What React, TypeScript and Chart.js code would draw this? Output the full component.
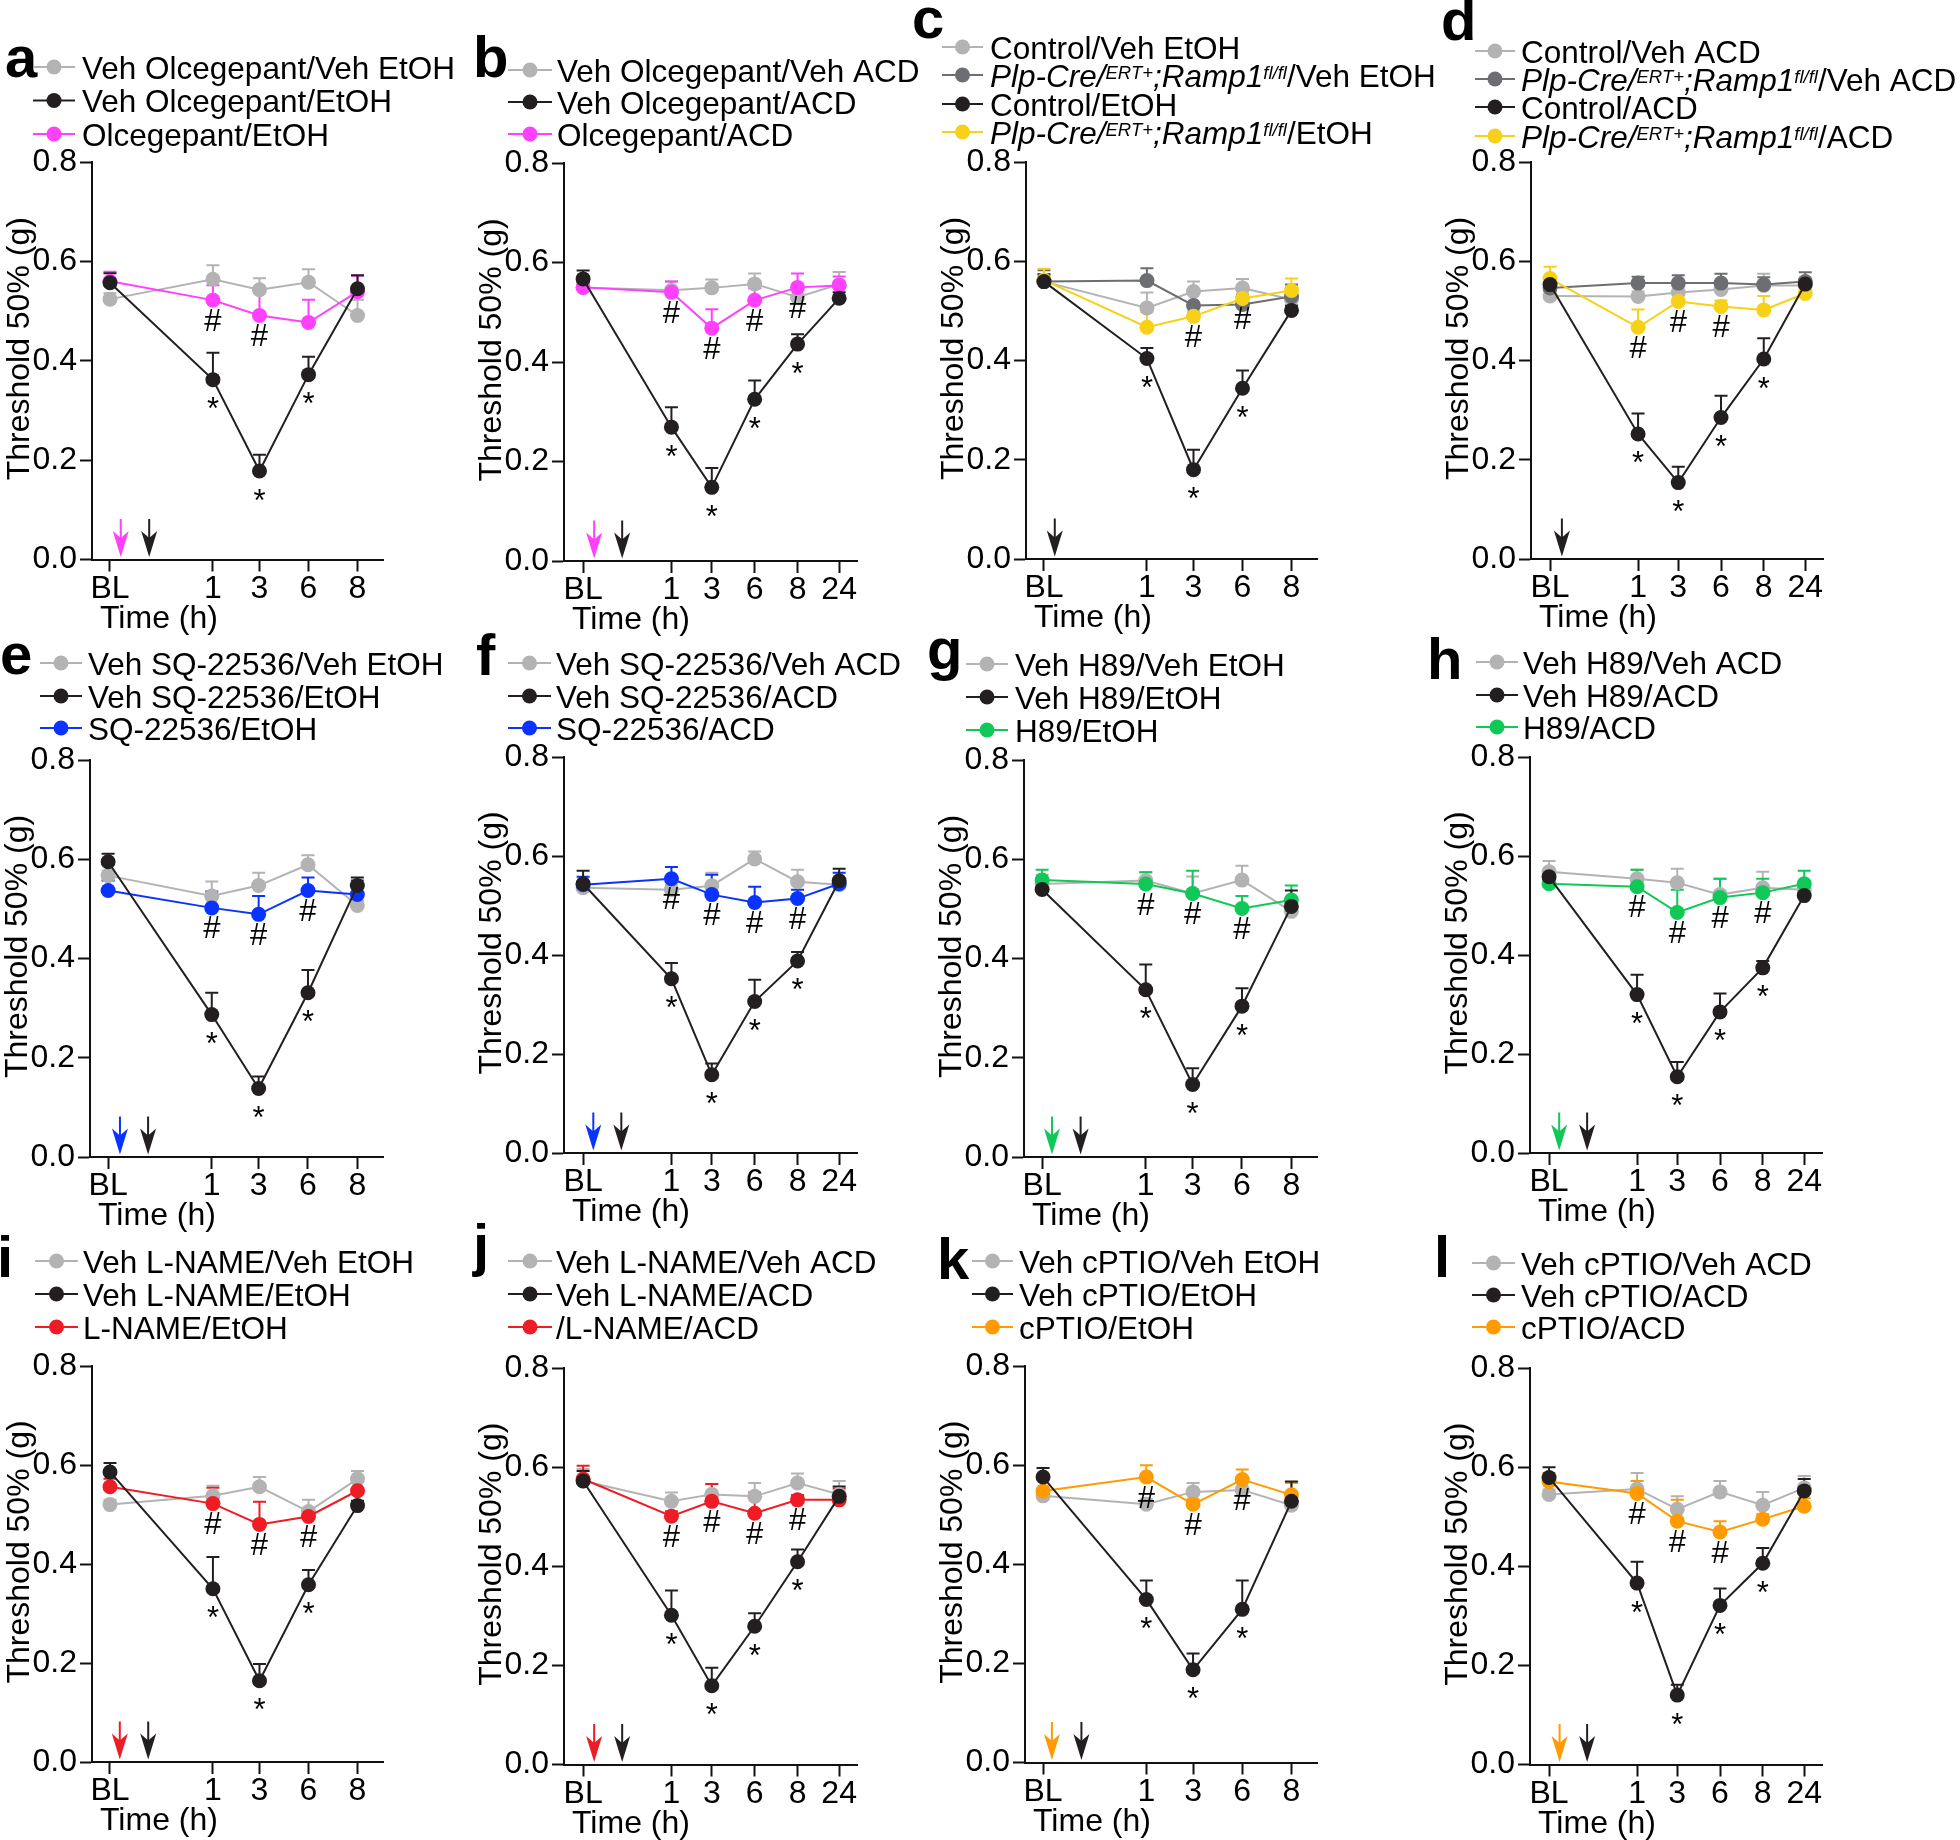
import React, { useEffect, useRef } from 'react';
import { Chart, registerables } from 'chart.js';

Chart.register(...registerables);

const FONT_FAMILY = '"Liberation Sans", Arial, Helvetica, sans-serif';

// ---------- axis categories ----------
const TIME_LABELS_5 = ['BL', '1', '3', '6', '8'];
const TIME_LABELS_6 = ['BL', '1', '3', '6', '8', '24'];
const TIME_SLOT_5 = [0, 2.1, 3.05, 4.05, 5.05];
const TIME_SLOT_6 = [0, 2.08, 3.03, 4.04, 5.05, 6.03];
const Y_TICKS = [0, 0.2, 0.4, 0.6, 0.8];
const Y_TITLE = 'Threshold 50% (g)';
const X_TITLE = 'Time (h)';

// ---------- colours ----------
const GREY = '#b3b3b3';
const DARKGREY = '#6d6e71';
const BLACK = '#231f20';
const PINK = '#ff40ff';
const BLUE = '#0a33ff';
const GREEN = '#10c858';
const RED = '#ee1c25';
const ORANGE = '#ff9a00';
const YELLOW = '#f7d117';

// ---------- panel a : Olcegepant / EtOH ----------
const aVehVehMean = [0.524, 0.564, 0.543, 0.558, 0.491];
const aVehVehSem = [0.012, 0.028, 0.023, 0.026, 0.032];
const aVehEtohMean = [0.557, 0.362, 0.178, 0.372, 0.545];
const aVehEtohSem = [0.019, 0.054, 0.033, 0.036, 0.027];
const aDrugEtohMean = [0.560, 0.522, 0.491, 0.477, 0.539];
const aDrugEtohSem = [0.019, 0.030, 0.050, 0.046, 0.032];
const aHash = [1, 2];
const aStar = [1, 2, 3];

// ---------- panel b : Olcegepant / ACD ----------
const bVehVehMean = [0.550, 0.544, 0.549, 0.557, 0.530, 0.556];
const bVehVehSem = [0.010, 0.018, 0.017, 0.021, 0.015, 0.025];
const bVehAcdMean = [0.567, 0.269, 0.148, 0.325, 0.436, 0.528];
const bVehAcdSem = [0.017, 0.040, 0.039, 0.038, 0.020, 0.012];
const bDrugAcdMean = [0.550, 0.540, 0.468, 0.524, 0.550, 0.554];
const bDrugAcdSem = [0.010, 0.022, 0.038, 0.024, 0.028, 0.018];
const bHash = [1, 2, 3, 4];
const bStar = [1, 2, 3, 4];

// ---------- panel c : Plp-Cre Ramp1 / EtOH ----------
const cCtrlVehMean = [0.559, 0.506, 0.539, 0.546, 0.523];
const cCtrlVehSem = [0.012, 0.031, 0.020, 0.018, 0.028];
const cPlpVehMean = [0.559, 0.561, 0.511, 0.513, 0.529];
const cPlpVehSem = [0.023, 0.025, 0.026, 0.020, 0.024];
const cCtrlEtohMean = [0.559, 0.404, 0.180, 0.344, 0.501];
const cCtrlEtohSem = [0.015, 0.021, 0.040, 0.036, 0.010];
const cPlpEtohMean = [0.562, 0.467, 0.489, 0.525, 0.541];
const cPlpEtohSem = [0.023, 0.030, 0.010, 0.015, 0.024];
const cHash = [2, 3];
const cStar = [1, 2, 3];

// ---------- panel d : Plp-Cre Ramp1 / ACD ----------
const dCtrlVehMean = [0.530, 0.529, 0.537, 0.543, 0.551, 0.551];
const dCtrlVehSem = [0.010, 0.010, 0.012, 0.015, 0.024, 0.015];
const dPlpVehMean = [0.546, 0.556, 0.556, 0.556, 0.553, 0.559];
const dPlpVehSem = [0.012, 0.013, 0.016, 0.019, 0.015, 0.019];
const dCtrlAcdMean = [0.553, 0.252, 0.154, 0.285, 0.403, 0.554];
const dCtrlAcdSem = [0.012, 0.041, 0.032, 0.044, 0.042, 0.010];
const dPlpAcdMean = [0.565, 0.467, 0.519, 0.509, 0.502, 0.535];
const dPlpAcdSem = [0.024, 0.036, 0.015, 0.012, 0.028, 0.010];
const dHash = [1, 2, 3];
const dStar = [1, 2, 3, 4];

// ---------- panel e : SQ-22536 / EtOH ----------
const eVehVehMean = [0.567, 0.526, 0.547, 0.589, 0.507];
const eVehVehSem = [0.010, 0.029, 0.026, 0.019, 0.010];
const eVehEtohMean = [0.595, 0.287, 0.138, 0.331, 0.547];
const eVehEtohSem = [0.016, 0.044, 0.024, 0.046, 0.016];
const eDrugEtohMean = [0.537, 0.502, 0.489, 0.537, 0.529];
const eDrugEtohSem = [0.020, 0.033, 0.037, 0.026, 0.028];
const eHash = [1, 2, 3];
const eStar = [1, 2, 3];

// ---------- panel f : SQ-22536 / ACD ----------
const fVehVehMean = [0.536, 0.532, 0.540, 0.594, 0.548, 0.542];
const fVehVehSem = [0.010, 0.010, 0.026, 0.015, 0.024, 0.010];
const fVehAcdMean = [0.544, 0.352, 0.158, 0.306, 0.388, 0.550];
const fVehAcdSem = [0.026, 0.032, 0.023, 0.044, 0.018, 0.024];
const fDrugAcdMean = [0.542, 0.554, 0.522, 0.506, 0.514, 0.544];
const fDrugAcdSem = [0.016, 0.024, 0.040, 0.032, 0.018, 0.022];
const fHash = [1, 2, 3, 4];
const fStar = [1, 2, 3, 4];

// ---------- panel g : H89 / EtOH ----------
const gVehVehMean = [0.550, 0.557, 0.531, 0.558, 0.495];
const gVehVehSem = [0.019, 0.017, 0.034, 0.029, 0.010];
const gVehEtohMean = [0.539, 0.337, 0.146, 0.304, 0.505];
const gVehEtohSem = [0.010, 0.051, 0.033, 0.036, 0.032];
const gDrugEtohMean = [0.558, 0.550, 0.531, 0.501, 0.518];
const gDrugEtohSem = [0.021, 0.024, 0.046, 0.025, 0.029];
const gHash = [1, 2, 3];
const gStar = [1, 2, 3];

// ---------- panel h : H89 / ACD ----------
const hVehVehMean = [0.568, 0.554, 0.546, 0.522, 0.536, 0.532];
const hVehVehSem = [0.022, 0.018, 0.028, 0.032, 0.032, 0.010];
const hVehAcdMean = [0.558, 0.320, 0.154, 0.285, 0.374, 0.520];
const hVehAcdSem = [0.010, 0.040, 0.030, 0.037, 0.014, 0.010];
const hDrugAcdMean = [0.544, 0.538, 0.486, 0.516, 0.526, 0.544];
const hDrugAcdSem = [0.010, 0.034, 0.046, 0.038, 0.028, 0.026];
const hHash = [1, 2, 3, 4];
const hStar = [1, 2, 3, 4];

// ---------- panel i : L-NAME / EtOH ----------
const iVehVehMean = [0.520, 0.538, 0.556, 0.506, 0.572];
const iVehVehSem = [0.010, 0.020, 0.020, 0.024, 0.016];
const iVehEtohMean = [0.586, 0.350, 0.164, 0.358, 0.518];
const iVehEtohSem = [0.018, 0.064, 0.034, 0.030, 0.010];
const iDrugEtohMean = [0.556, 0.522, 0.480, 0.496, 0.548];
const iDrugEtohSem = [0.016, 0.032, 0.046, 0.010, 0.018];
const iHash = [1, 2, 3];
const iStar = [1, 2, 3];

// ---------- panel j : L-NAME / ACD ----------
const jVehVehMean = [0.572, 0.531, 0.545, 0.541, 0.568, 0.545];
const jVehVehSem = [0.024, 0.018, 0.021, 0.027, 0.019, 0.027];
const jVehAcdMean = [0.572, 0.301, 0.159, 0.279, 0.409, 0.541];
const jVehAcdSem = [0.020, 0.050, 0.036, 0.026, 0.025, 0.020];
const jDrugAcdMean = [0.576, 0.501, 0.531, 0.507, 0.534, 0.534];
const jDrugAcdSem = [0.027, 0.010, 0.035, 0.042, 0.010, 0.023];
const jHash = [1, 2, 3, 4];
const jStar = [1, 2, 3, 4];

// ---------- panel k : cPTIO / EtOH ----------
const kVehVehMean = [0.538, 0.521, 0.546, 0.550, 0.519];
const kVehVehSem = [0.010, 0.010, 0.018, 0.026, 0.010];
const kVehEtohMean = [0.576, 0.329, 0.187, 0.309, 0.527];
const kVehEtohSem = [0.018, 0.038, 0.033, 0.058, 0.040];
const kDrugEtohMean = [0.548, 0.576, 0.521, 0.571, 0.540];
const kDrugEtohSem = [0.027, 0.024, 0.010, 0.020, 0.024];
const kHash = [1, 2, 3];
const kStar = [1, 2, 3];

// ---------- panel l : cPTIO / ACD ----------
const lVehVehMean = [0.545, 0.556, 0.515, 0.550, 0.523, 0.558];
const lVehVehSem = [0.010, 0.032, 0.026, 0.022, 0.027, 0.024];
const lVehAcdMean = [0.579, 0.366, 0.140, 0.321, 0.406, 0.552];
const lVehAcdSem = [0.021, 0.043, 0.021, 0.034, 0.031, 0.024];
const lDrugAcdMean = [0.571, 0.547, 0.491, 0.469, 0.495, 0.521];
const lDrugAcdSem = [0.017, 0.025, 0.043, 0.022, 0.010, 0.016];
const lHash = [1, 2, 3];
const lStar = [1, 2, 3, 4];

// ---------- types ----------
type Run = { t: string; it?: boolean; sup?: boolean };
type Series = { label: Run[]; color: string; mean: number[]; sem: number[]; order: number };
type Panel = {
  letter: string;
  letterPos: [number, number];
  canvas: [number, number, number, number];
  plot: [number, number, number, number];
  labels: string[];
  slots: number[];
  xRange: [number, number];
  series: Series[];
  legend: { x0: number; x1: number; tx: number; ys: number[] };
  hash: number[];
  star: number[];
  hashSeries: number;
  starSeries: number;
  arrows: { x: number; color: string }[];
};

const txt = (t: string): Run[] => [{ t }];
const plp = (tail: string): Run[] => [
  { t: 'Plp-Cre/', it: true },
  { t: 'ERT+', it: true, sup: true },
  { t: ';', it: true },
  { t: 'Ramp1', it: true },
  { t: 'fl/fl', it: true, sup: true },
  { t: tail },
];

const X5: [number, number] = [-0.367, 5.57];
const X6: [number, number] = [-0.45, 6.45];

function three(
  names: [string, string, string],
  color: string,
  m0: number[], s0: number[], m1: number[], s1: number[], m2: number[], s2: number[]
): Series[] {
  return [
    { label: txt(names[0]), color: GREY, mean: m0, sem: s0, order: 2 },
    { label: txt(names[1]), color: BLACK, mean: m1, sem: s1, order: 0 },
    { label: txt(names[2]), color, mean: m2, sem: s2, order: 1 },
  ];
}

const PANELS: Panel[] = [
  {
    letter: 'a', letterPos: [5, 77], canvas: [0, 0, 540, 650], plot: [92, 383, 162, 559.5],
    labels: TIME_LABELS_5, slots: TIME_SLOT_5, xRange: X5,
    series: three(['Veh Olcegepant/Veh EtOH', 'Veh Olcegepant/EtOH', 'Olcegepant/EtOH'], PINK,
      aVehVehMean, aVehVehSem, aVehEtohMean, aVehEtohSem, aDrugEtohMean, aDrugEtohSem),
    legend: { x0: 33, x1: 75, tx: 82, ys: [67, 100.5, 134] },
    hash: aHash, star: aStar, hashSeries: 2, starSeries: 1,
    arrows: [{ x: 0.22, color: PINK }, { x: 0.8, color: BLACK }],
  },
  {
    letter: 'b', letterPos: [473, 77], canvas: [468, 0, 540, 650], plot: [564, 857, 163, 561],
    labels: TIME_LABELS_6, slots: TIME_SLOT_6, xRange: X6,
    series: three(['Veh Olcegepant/Veh ACD', 'Veh Olcegepant/ACD', 'Olcegepant/ACD'], PINK,
      bVehVehMean, bVehVehSem, bVehAcdMean, bVehAcdSem, bDrugAcdMean, bDrugAcdSem),
    legend: { x0: 508, x1: 552, tx: 557, ys: [70, 102, 134] },
    hash: bHash, star: bStar, hashSeries: 2, starSeries: 1,
    arrows: [{ x: 0.26, color: PINK }, { x: 0.92, color: BLACK }],
  },
  {
    letter: 'c', letterPos: [912, 38], canvas: [905, 0, 540, 650], plot: [1026, 1317, 162, 559],
    labels: TIME_LABELS_5, slots: TIME_SLOT_5, xRange: X5,
    series: [
      { label: txt('Control/Veh EtOH'), color: GREY, mean: cCtrlVehMean, sem: cCtrlVehSem, order: 3 },
      { label: plp('/Veh EtOH'), color: DARKGREY, mean: cPlpVehMean, sem: cPlpVehSem, order: 2 },
      { label: txt('Control/EtOH'), color: BLACK, mean: cCtrlEtohMean, sem: cCtrlEtohSem, order: 0 },
      { label: plp('/EtOH'), color: YELLOW, mean: cPlpEtohMean, sem: cPlpEtohSem, order: 1 },
    ],
    legend: { x0: 942, x1: 983, tx: 990, ys: [47, 75, 104, 132] },
    hash: cHash, star: cStar, hashSeries: 3, starSeries: 2,
    arrows: [{ x: 0.22, color: BLACK }],
  },
  {
    letter: 'd', letterPos: [1441, 40], canvas: [1425, 0, 535, 650], plot: [1531, 1823, 162, 559],
    labels: TIME_LABELS_6, slots: TIME_SLOT_6, xRange: X6,
    series: [
      { label: txt('Control/Veh ACD'), color: GREY, mean: dCtrlVehMean, sem: dCtrlVehSem, order: 3 },
      { label: plp('/Veh ACD'), color: DARKGREY, mean: dPlpVehMean, sem: dPlpVehSem, order: 2 },
      { label: txt('Control/ACD'), color: BLACK, mean: dCtrlAcdMean, sem: dCtrlAcdSem, order: 0 },
      { label: plp('/ACD'), color: YELLOW, mean: dPlpAcdMean, sem: dPlpAcdSem, order: 1 },
    ],
    legend: { x0: 1475, x1: 1515, tx: 1521, ys: [51, 79, 107, 136] },
    hash: dHash, star: dStar, hashSeries: 3, starSeries: 2,
    arrows: [{ x: 0.28, color: BLACK }],
  },
  {
    letter: 'e', letterPos: [0, 674], canvas: [0, 628, 540, 612], plot: [90, 383, 760, 1157],
    labels: TIME_LABELS_5, slots: TIME_SLOT_5, xRange: X5,
    series: three(['Veh SQ-22536/Veh EtOH', 'Veh SQ-22536/EtOH', 'SQ-22536/EtOH'], BLUE,
      eVehVehMean, eVehVehSem, eVehEtohMean, eVehEtohSem, eDrugEtohMean, eDrugEtohSem),
    legend: { x0: 40, x1: 82, tx: 88, ys: [663, 696, 728] },
    hash: eHash, star: eStar, hashSeries: 2, starSeries: 1,
    arrows: [{ x: 0.24, color: BLUE }, { x: 0.81, color: BLACK }],
  },
  {
    letter: 'f', letterPos: [476, 675], canvas: [468, 628, 540, 612], plot: [564, 857, 757, 1153],
    labels: TIME_LABELS_6, slots: TIME_SLOT_6, xRange: X6,
    series: three(['Veh SQ-22536/Veh ACD', 'Veh SQ-22536/ACD', 'SQ-22536/ACD'], BLUE,
      fVehVehMean, fVehVehSem, fVehAcdMean, fVehAcdSem, fDrugAcdMean, fDrugAcdSem),
    legend: { x0: 508, x1: 551, tx: 556, ys: [663, 696, 728] },
    hash: fHash, star: fStar, hashSeries: 2, starSeries: 1,
    arrows: [{ x: 0.24, color: BLUE }, { x: 0.9, color: BLACK }],
  },
  {
    letter: 'g', letterPos: [927, 669], canvas: [905, 628, 540, 612], plot: [1024, 1317, 760, 1157],
    labels: TIME_LABELS_5, slots: TIME_SLOT_5, xRange: X5,
    series: three(['Veh H89/Veh EtOH', 'Veh H89/EtOH', 'H89/EtOH'], GREEN,
      gVehVehMean, gVehVehSem, gVehEtohMean, gVehEtohSem, gDrugEtohMean, gDrugEtohSem),
    legend: { x0: 966, x1: 1008, tx: 1015, ys: [664, 697, 730] },
    hash: gHash, star: gStar, hashSeries: 2, starSeries: 1,
    arrows: [{ x: 0.2, color: GREEN }, { x: 0.78, color: BLACK }],
  },
  {
    letter: 'h', letterPos: [1427, 679], canvas: [1425, 628, 535, 612], plot: [1530, 1822, 757, 1153],
    labels: TIME_LABELS_6, slots: TIME_SLOT_6, xRange: X6,
    series: three(['Veh H89/Veh ACD', 'Veh H89/ACD', 'H89/ACD'], GREEN,
      hVehVehMean, hVehVehSem, hVehAcdMean, hVehAcdSem, hDrugAcdMean, hDrugAcdSem),
    legend: { x0: 1476, x1: 1518, tx: 1523, ys: [662, 695, 727] },
    hash: hHash, star: hStar, hashSeries: 2, starSeries: 1,
    arrows: [{ x: 0.24, color: GREEN }, { x: 0.9, color: BLACK }],
  },
  {
    letter: 'i', letterPos: [-3, 1277], canvas: [0, 1212, 540, 628], plot: [92, 383, 1366, 1762],
    labels: TIME_LABELS_5, slots: TIME_SLOT_5, xRange: X5,
    series: three(['Veh L-NAME/Veh EtOH', 'Veh L-NAME/EtOH', 'L-NAME/EtOH'], RED,
      iVehVehMean, iVehVehSem, iVehEtohMean, iVehEtohSem, iDrugEtohMean, iDrugEtohSem),
    legend: { x0: 35, x1: 78, tx: 83, ys: [1261, 1294, 1327] },
    hash: iHash, star: iStar, hashSeries: 2, starSeries: 1,
    arrows: [{ x: 0.2, color: RED }, { x: 0.78, color: BLACK }],
  },
  {
    letter: 'j', letterPos: [473, 1265], canvas: [468, 1212, 540, 628], plot: [564, 857, 1368, 1764.5],
    labels: TIME_LABELS_6, slots: TIME_SLOT_6, xRange: X6,
    series: three(['Veh L-NAME/Veh ACD', 'Veh L-NAME/ACD', '/L-NAME/ACD'], RED,
      jVehVehMean, jVehVehSem, jVehAcdMean, jVehAcdSem, jDrugAcdMean, jDrugAcdSem),
    legend: { x0: 508, x1: 552, tx: 556, ys: [1261, 1294, 1327] },
    hash: jHash, star: jStar, hashSeries: 2, starSeries: 1,
    arrows: [{ x: 0.26, color: RED }, { x: 0.92, color: BLACK }],
  },
  {
    letter: 'k', letterPos: [937, 1279], canvas: [905, 1212, 540, 628], plot: [1025, 1317, 1366, 1762.5],
    labels: TIME_LABELS_5, slots: TIME_SLOT_5, xRange: X5,
    series: three(['Veh cPTIO/Veh EtOH', 'Veh cPTIO/EtOH', 'cPTIO/EtOH'], ORANGE,
      kVehVehMean, kVehVehSem, kVehEtohMean, kVehEtohSem, kDrugEtohMean, kDrugEtohSem),
    legend: { x0: 972, x1: 1013, tx: 1019, ys: [1261, 1294, 1327] },
    hash: kHash, star: kStar, hashSeries: 2, starSeries: 1,
    arrows: [{ x: 0.18, color: ORANGE }, { x: 0.78, color: BLACK }],
  },
  {
    letter: 'l', letterPos: [1434, 1277], canvas: [1425, 1212, 535, 628], plot: [1530, 1822, 1368, 1764.5],
    labels: TIME_LABELS_6, slots: TIME_SLOT_6, xRange: X6,
    series: three(['Veh cPTIO/Veh ACD', 'Veh cPTIO/ACD', 'cPTIO/ACD'], ORANGE,
      lVehVehMean, lVehVehSem, lVehAcdMean, lVehAcdSem, lDrugAcdMean, lDrugAcdSem),
    legend: { x0: 1472, x1: 1515, tx: 1521, ys: [1263, 1295, 1327] },
    hash: lHash, star: lStar, hashSeries: 2, starSeries: 1,
    arrows: [{ x: 0.25, color: ORANGE }, { x: 0.9, color: BLACK }],
  },
];

const Y_AXIS_W = 60;
const X_AXIS_H = 50;
const TEXT_SIZE = 32;
const LEGEND_SIZE = 31.5;

function drawRuns(ctx: CanvasRenderingContext2D, runs: Run[], x: number, baseline: number) {
  let cx = x;
  ctx.textAlign = 'left';
  ctx.textBaseline = 'alphabetic';
  for (const r of runs) {
    const size = r.sup ? 18.5 : LEGEND_SIZE;
    ctx.font = `${r.it ? 'italic ' : ''}${size}px ${FONT_FAMILY}`;
    ctx.fillText(r.t, cx, r.sup ? baseline - 8 : baseline);
    cx += ctx.measureText(r.t).width;
  }
}

function drawArrow(ctx: CanvasRenderingContext2D, x: number, tipY: number, color: string) {
  ctx.save();
  ctx.strokeStyle = color;
  ctx.fillStyle = color;
  ctx.lineWidth = 2;
  ctx.beginPath();
  ctx.moveTo(x, tipY - 38);
  ctx.lineTo(x, tipY - 12);
  ctx.stroke();
  ctx.beginPath();
  ctx.moveTo(x, tipY);
  ctx.lineTo(x - 8, tipY - 26);
  ctx.lineTo(x, tipY - 19);
  ctx.lineTo(x + 8, tipY - 26);
  ctx.closePath();
  ctx.fill();
  ctx.restore();
}

function buildChart(canvas: HTMLCanvasElement, p: Panel): Chart {
  const [L, T, W, H] = p.canvas;
  const [pl, pr, pt, pb] = p.plot;
  const padding = {
    left: pl - L - Y_AXIS_W,
    top: pt - T,
    right: L + W - pr,
    bottom: T + H - pb - X_AXIS_H,
  };

  const datasets = p.series.map((s) => ({
    label: s.label.map((r) => r.t).join(''),
    data: s.mean.map((v, i) => ({ x: p.slots[i], y: v })),
    borderColor: s.color,
    backgroundColor: s.color,
    pointBackgroundColor: s.color,
    pointBorderColor: s.color,
    borderWidth: 2,
    pointRadius: 7.5,
    pointHoverRadius: 7.5,
    pointBorderWidth: 0,
    tension: 0,
    fill: false,
    order: s.order,
  }));

  const decor = {
    id: 'panelDecor',
    beforeDatasetsDraw(chart: any) {
      const ctx: CanvasRenderingContext2D = chart.ctx;
      const xs = chart.scales.x;
      const ys = chart.scales.y;
      ctx.save();
      const sorted = [...p.series].sort((a, b) => b.order - a.order);
      for (const s of sorted) {
        ctx.strokeStyle = s.color;
        ctx.lineWidth = 2;
        s.mean.forEach((m, i) => {
          const x = xs.getPixelForValue(p.slots[i]);
          const y0 = ys.getPixelForValue(m);
          const y1 = ys.getPixelForValue(m + s.sem[i]);
          ctx.beginPath();
          ctx.moveTo(x, y0);
          ctx.lineTo(x, y1);
          ctx.moveTo(x - 6.5, y1);
          ctx.lineTo(x + 6.5, y1);
          ctx.stroke();
        });
      }
      ctx.restore();
    },
    afterDatasetsDraw(chart: any) {
      const ctx: CanvasRenderingContext2D = chart.ctx;
      const xs = chart.scales.x;
      const ys = chart.scales.y;
      const area = chart.chartArea;
      ctx.save();
      ctx.fillStyle = '#000';
      ctx.textAlign = 'center';
      ctx.textBaseline = 'middle';
      ctx.font = `31px ${FONT_FAMILY}`;
      const hs = p.series[p.hashSeries];
      p.hash.forEach((i) => {
        const x = xs.getPixelForValue(p.slots[i]);
        const y = ys.getPixelForValue(hs.mean[i]);
        ctx.fillText('#', x, y + 22);
      });
      const ss = p.series[p.starSeries];
      p.star.forEach((i) => {
        const x = xs.getPixelForValue(p.slots[i]);
        const y = ys.getPixelForValue(ss.mean[i]);
        ctx.fillText('*', x, y + 31);
      });
      ctx.restore();
      p.arrows.forEach((a) => drawArrow(ctx, xs.getPixelForValue(a.x), area.bottom - 2.5, a.color));
    },
    afterDraw(chart: any) {
      const ctx: CanvasRenderingContext2D = chart.ctx;
      const area = chart.chartArea;
      ctx.save();
      ctx.fillStyle = '#000';
      // panel letter
      ctx.font = `bold 58px ${FONT_FAMILY}`;
      ctx.textAlign = 'left';
      ctx.textBaseline = 'alphabetic';
      ctx.fillText(p.letter, p.letterPos[0] - L, p.letterPos[1] - T);
      // legend
      p.series.forEach((s, k) => {
        const y = p.legend.ys[k] - T;
        ctx.strokeStyle = s.color;
        ctx.fillStyle = s.color;
        ctx.lineWidth = 2;
        ctx.beginPath();
        ctx.moveTo(p.legend.x0 - L, y);
        ctx.lineTo(p.legend.x1 - L, y);
        ctx.stroke();
        ctx.beginPath();
        ctx.arc((p.legend.x0 + p.legend.x1) / 2 - L, y, 7.5, 0, Math.PI * 2);
        ctx.fill();
        ctx.fillStyle = '#000';
        drawRuns(ctx, s.label, p.legend.tx - L, y + 11.5);
      });
      // axis titles
      ctx.fillStyle = '#000';
      ctx.font = `${TEXT_SIZE}px ${FONT_FAMILY}`;
      ctx.save();
      ctx.translate(area.left - 72, (area.top + area.bottom) / 2 - 12);
      ctx.rotate(-Math.PI / 2);
      ctx.textAlign = 'center';
      ctx.textBaseline = 'middle';
      ctx.fillText(Y_TITLE, 0, 0);
      ctx.restore();
      ctx.textAlign = 'left';
      ctx.textBaseline = 'alphabetic';
      ctx.fillText(X_TITLE, area.left + 8, area.bottom + 68);
      ctx.restore();
    },
  };

  const tickFont = { family: FONT_FAMILY, size: TEXT_SIZE };

  return new Chart(canvas, {
    type: 'line',
    data: { datasets: datasets as any },
    options: {
      responsive: false,
      maintainAspectRatio: false,
      animation: false,
      devicePixelRatio: 1,
      layout: { padding },
      plugins: {
        legend: { display: false },
        tooltip: { enabled: false },
        title: { display: false },
      },
      scales: {
        x: {
          type: 'linear',
          min: p.xRange[0],
          max: p.xRange[1],
          afterBuildTicks: (scale: any) => {
            scale.ticks = p.slots.map((v) => ({ value: v }));
          },
          afterFit: (scale: any) => {
            scale.height = X_AXIS_H;
          },
          ticks: {
            autoSkip: false,
            maxRotation: 0,
            minRotation: 0,
            padding: -2,
            color: '#000',
            font: tickFont,
            callback: (_v: any, index: number) => p.labels[index],
          },
          grid: {
            display: true,
            drawOnChartArea: false,
            drawTicks: true,
            tickLength: 12,
            tickWidth: 2,
            tickColor: '#111',
          },
          border: { display: true, color: '#111', width: 2 },
        },
        y: {
          type: 'linear',
          min: 0,
          max: 0.8,
          afterBuildTicks: (scale: any) => {
            scale.ticks = Y_TICKS.map((v) => ({ value: v }));
          },
          afterFit: (scale: any) => {
            scale.width = Y_AXIS_W;
          },
          ticks: {
            padding: 3,
            color: '#000',
            font: tickFont,
            callback: (v: any) => Number(v).toFixed(1),
          },
          grid: {
            display: true,
            drawOnChartArea: false,
            drawTicks: true,
            tickLength: 12,
            tickWidth: 2,
            tickColor: '#111',
          },
          border: { display: true, color: '#111', width: 2 },
        },
      },
    } as any,
    plugins: [decor as any],
  });
}

function PanelChart({ panel }: { panel: Panel }) {
  const ref = useRef<HTMLCanvasElement | null>(null);
  useEffect(() => {
    if (!ref.current) return;
    const chart = buildChart(ref.current, panel);
    return () => chart.destroy();
  }, [panel]);
  const [L, T, W, H] = panel.canvas;
  return (
    <canvas
      ref={ref}
      width={W}
      height={H}
      style={{ position: 'absolute', left: L, top: T, width: W, height: H }}
    />
  );
}

export default function App() {
  return (
    <div
      style={{
        position: 'absolute',
        left: 0,
        top: 0,
        width: 1960,
        height: 1840,
        background: '#ffffff',
        overflow: 'hidden',
      }}
    >
      {PANELS.map((p) => (
        <PanelChart key={p.letter} panel={p} />
      ))}
    </div>
  );
}
